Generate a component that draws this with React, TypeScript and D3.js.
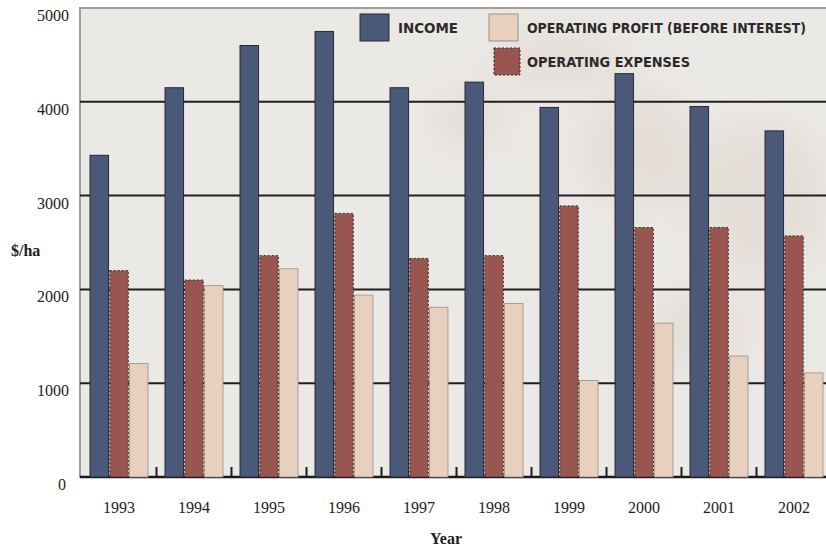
import * as d3 from "d3";
import {useEffect, useRef} from "react";

// values, $/ha
const years = ["1993", "1994", "1995", "1996", "1997", "1998", "1999", "2000", "2001", "2002"];
const income = [3430, 4150, 4600, 4750, 4150, 4210, 3940, 4300, 3950, 3690];
const expenses = [2200, 2100, 2360, 2810, 2330, 2360, 2890, 2660, 2660, 2570];
const profit = [1210, 2040, 2220, 1940, 1810, 1850, 1030, 1640, 1290, 1110];
const yTicks = [0, 1000, 2000, 3000, 4000, 5000];

const seriesNames = ["INCOME", "OPERATING EXPENSES", "OPERATING PROFIT (BEFORE INTEREST)"];
const seriesColors = ["#4a5879", "#99554f", "#e8d0bf"];

function App() {
  const ref = useRef<SVGSVGElement | null>(null);

  useEffect(() => {
    const W = 826, H = 549;
    const svg = d3.select(ref.current);
    svg.selectAll("*").remove();

    const left = 80, top = 8, bottom = 477;
    const tickFont = "'Liberation Serif', 'DejaVu Serif', serif";
    const legendFont = "'DejaVu Sans Condensed', 'Liberation Sans', sans-serif";

    svg.append("rect").attr("width", W).attr("height", H).attr("fill", "#ffffff");

    // soft blur for the faint map behind the plot
    const defs = svg.append("defs");
    defs.append("filter").attr("id", "soft")
      .attr("x", "-50%").attr("y", "-50%").attr("width", "200%").attr("height", "200%")
      .append("feGaussianBlur").attr("stdDeviation", 18);
    defs.append("clipPath").attr("id", "plotclip")
      .append("rect").attr("x", left).attr("y", top)
      .attr("width", W - left).attr("height", bottom - top);

    // plot background
    svg.append("rect")
      .attr("x", left).attr("y", top)
      .attr("width", W - left + 10).attr("height", bottom - top)
      .attr("fill", "#ebe9e6")
      .attr("stroke", "#a09d9a").attr("stroke-width", 2);

    const blobs = svg.append("g").attr("clip-path", "url(#plotclip)")
      .attr("filter", "url(#soft)").attr("opacity", 0.35);
    [[560, 60, 70, 30], [640, 150, 60, 60], [760, 200, 70, 80], [470, 120, 40, 30], [700, 330, 50, 40]]
      .forEach(b => {
        blobs.append("ellipse")
          .attr("cx", b[0]).attr("cy", b[1]).attr("rx", b[2]).attr("ry", b[3])
          .attr("fill", "#d9cbbf");
      });

    const x = d3.scaleBand()
      .domain(years)
      .range([81.5, 831.5])
      .paddingInner(0.227)
      .paddingOuter(0.1135);

    const y = d3.scaleLinear().domain([0, 5000]).range([bottom, top]);

    const inner = d3.scaleBand()
      .domain(["0", "1", "2"])
      .range([0, x.bandwidth()])
      .paddingInner(0.06);

    // gridlines
    svg.append("g")
      .selectAll("line")
      .data(yTicks.filter(t => t > 0 && t < 5000))
      .enter()
      .append("line")
        .attr("x1", left).attr("x2", W)
        .attr("y1", d => y(d)).attr("y2", d => y(d))
        .attr("stroke", "#1f1f1f").attr("stroke-width", 2);

    // baseline
    svg.append("line")
      .attr("x1", left).attr("x2", W)
      .attr("y1", y(0)).attr("y2", y(0))
      .attr("stroke", "#1a1a1a").attr("stroke-width", 2.5);

    // small ticks between the year groups
    const step = x.step();
    svg.append("g")
      .selectAll("line")
      .data(years.slice(1))
      .enter()
      .append("line")
        .attr("x1", d => (x(d) as number) - step * 0.1135)
        .attr("x2", d => (x(d) as number) - step * 0.1135)
        .attr("y1", y(0)).attr("y2", y(0) - 10)
        .attr("stroke", "#1a1a1a").attr("stroke-width", 2);

    // bars
    const all = [income, expenses, profit];
    all.forEach((vals, si) => {
      svg.append("g")
        .selectAll("rect")
        .data(vals)
        .enter()
        .append("rect")
          .attr("x", (d, i) => (x(years[i]) as number) + (inner(String(si)) as number))
          .attr("width", inner.bandwidth())
          .attr("y", d => y(d))
          .attr("height", d => y(0) - y(d))
          .attr("fill", seriesColors[si])
          .attr("stroke", si === 2 ? "#9a8f86" : "#2a2a2e")
          .attr("stroke-width", si === 2 ? 0.8 : 1)
          .attr("stroke-dasharray", si === 1 ? "2,2" : null);
    });

    // y labels
    svg.append("g")
      .selectAll("text")
      .data(yTicks)
      .enter()
      .append("text")
        .attr("x", d => d === 0 ? 66 : 69)
        .attr("y", d => y(d) + 13)
        .attr("text-anchor", "end")
        .attr("font-family", tickFont)
        .attr("font-size", 16)
        .attr("fill", "#222")
        .text(d => d);

    svg.append("text")
      .attr("x", 11).attr("y", 256)
      .attr("font-family", tickFont)
      .attr("font-size", 16).attr("font-weight", "bold")
      .attr("fill", "#222")
      .text("$/ha");

    // x labels
    svg.append("g")
      .selectAll("text")
      .data(years)
      .enter()
      .append("text")
        .attr("x", d => (x(d) as number) + x.bandwidth() / 2)
        .attr("y", 513)
        .attr("text-anchor", "middle")
        .attr("font-family", tickFont)
        .attr("font-size", 16)
        .attr("fill", "#222")
        .text(d => d);

    svg.append("text")
      .attr("x", 446).attr("y", 544)
      .attr("text-anchor", "middle")
      .attr("font-family", tickFont)
      .attr("font-size", 16).attr("font-weight", "bold")
      .attr("fill", "#222")
      .text("Year");

    // legend
    const legend = [
      {i: 0, x: 360, y: 14, tx: 398, len: 60},
      {i: 2, x: 489, y: 14, tx: 527, len: 279},
      {i: 1, x: 494, y: 48, tx: 527, len: 163},
    ];
    legend.forEach(l => {
      svg.append("rect")
        .attr("x", l.x).attr("y", l.y)
        .attr("width", l.i === 1 ? 26 : 29).attr("height", 27)
        .attr("fill", seriesColors[l.i])
        .attr("stroke", l.i === 2 ? "#9a8f86" : "#2a2a2e")
        .attr("stroke-width", 1)
        .attr("stroke-dasharray", l.i === 1 ? "2,2" : null);
      svg.append("text")
        .attr("x", l.tx).attr("y", l.y + 19)
        .attr("font-family", legendFont)
        .attr("font-size", 14).attr("font-weight", "bold")
        .attr("fill", "#2a2a2a")
        .attr("textLength", l.len)
        .attr("lengthAdjust", "spacingAndGlyphs")
        .text(seriesNames[l.i]);
    });
  }, []);

  return (
    <svg ref={ref} width={826} height={549}
      style={{position: "absolute", left: 0, top: 0, display: "block"}} />
  );
}

export default App;
